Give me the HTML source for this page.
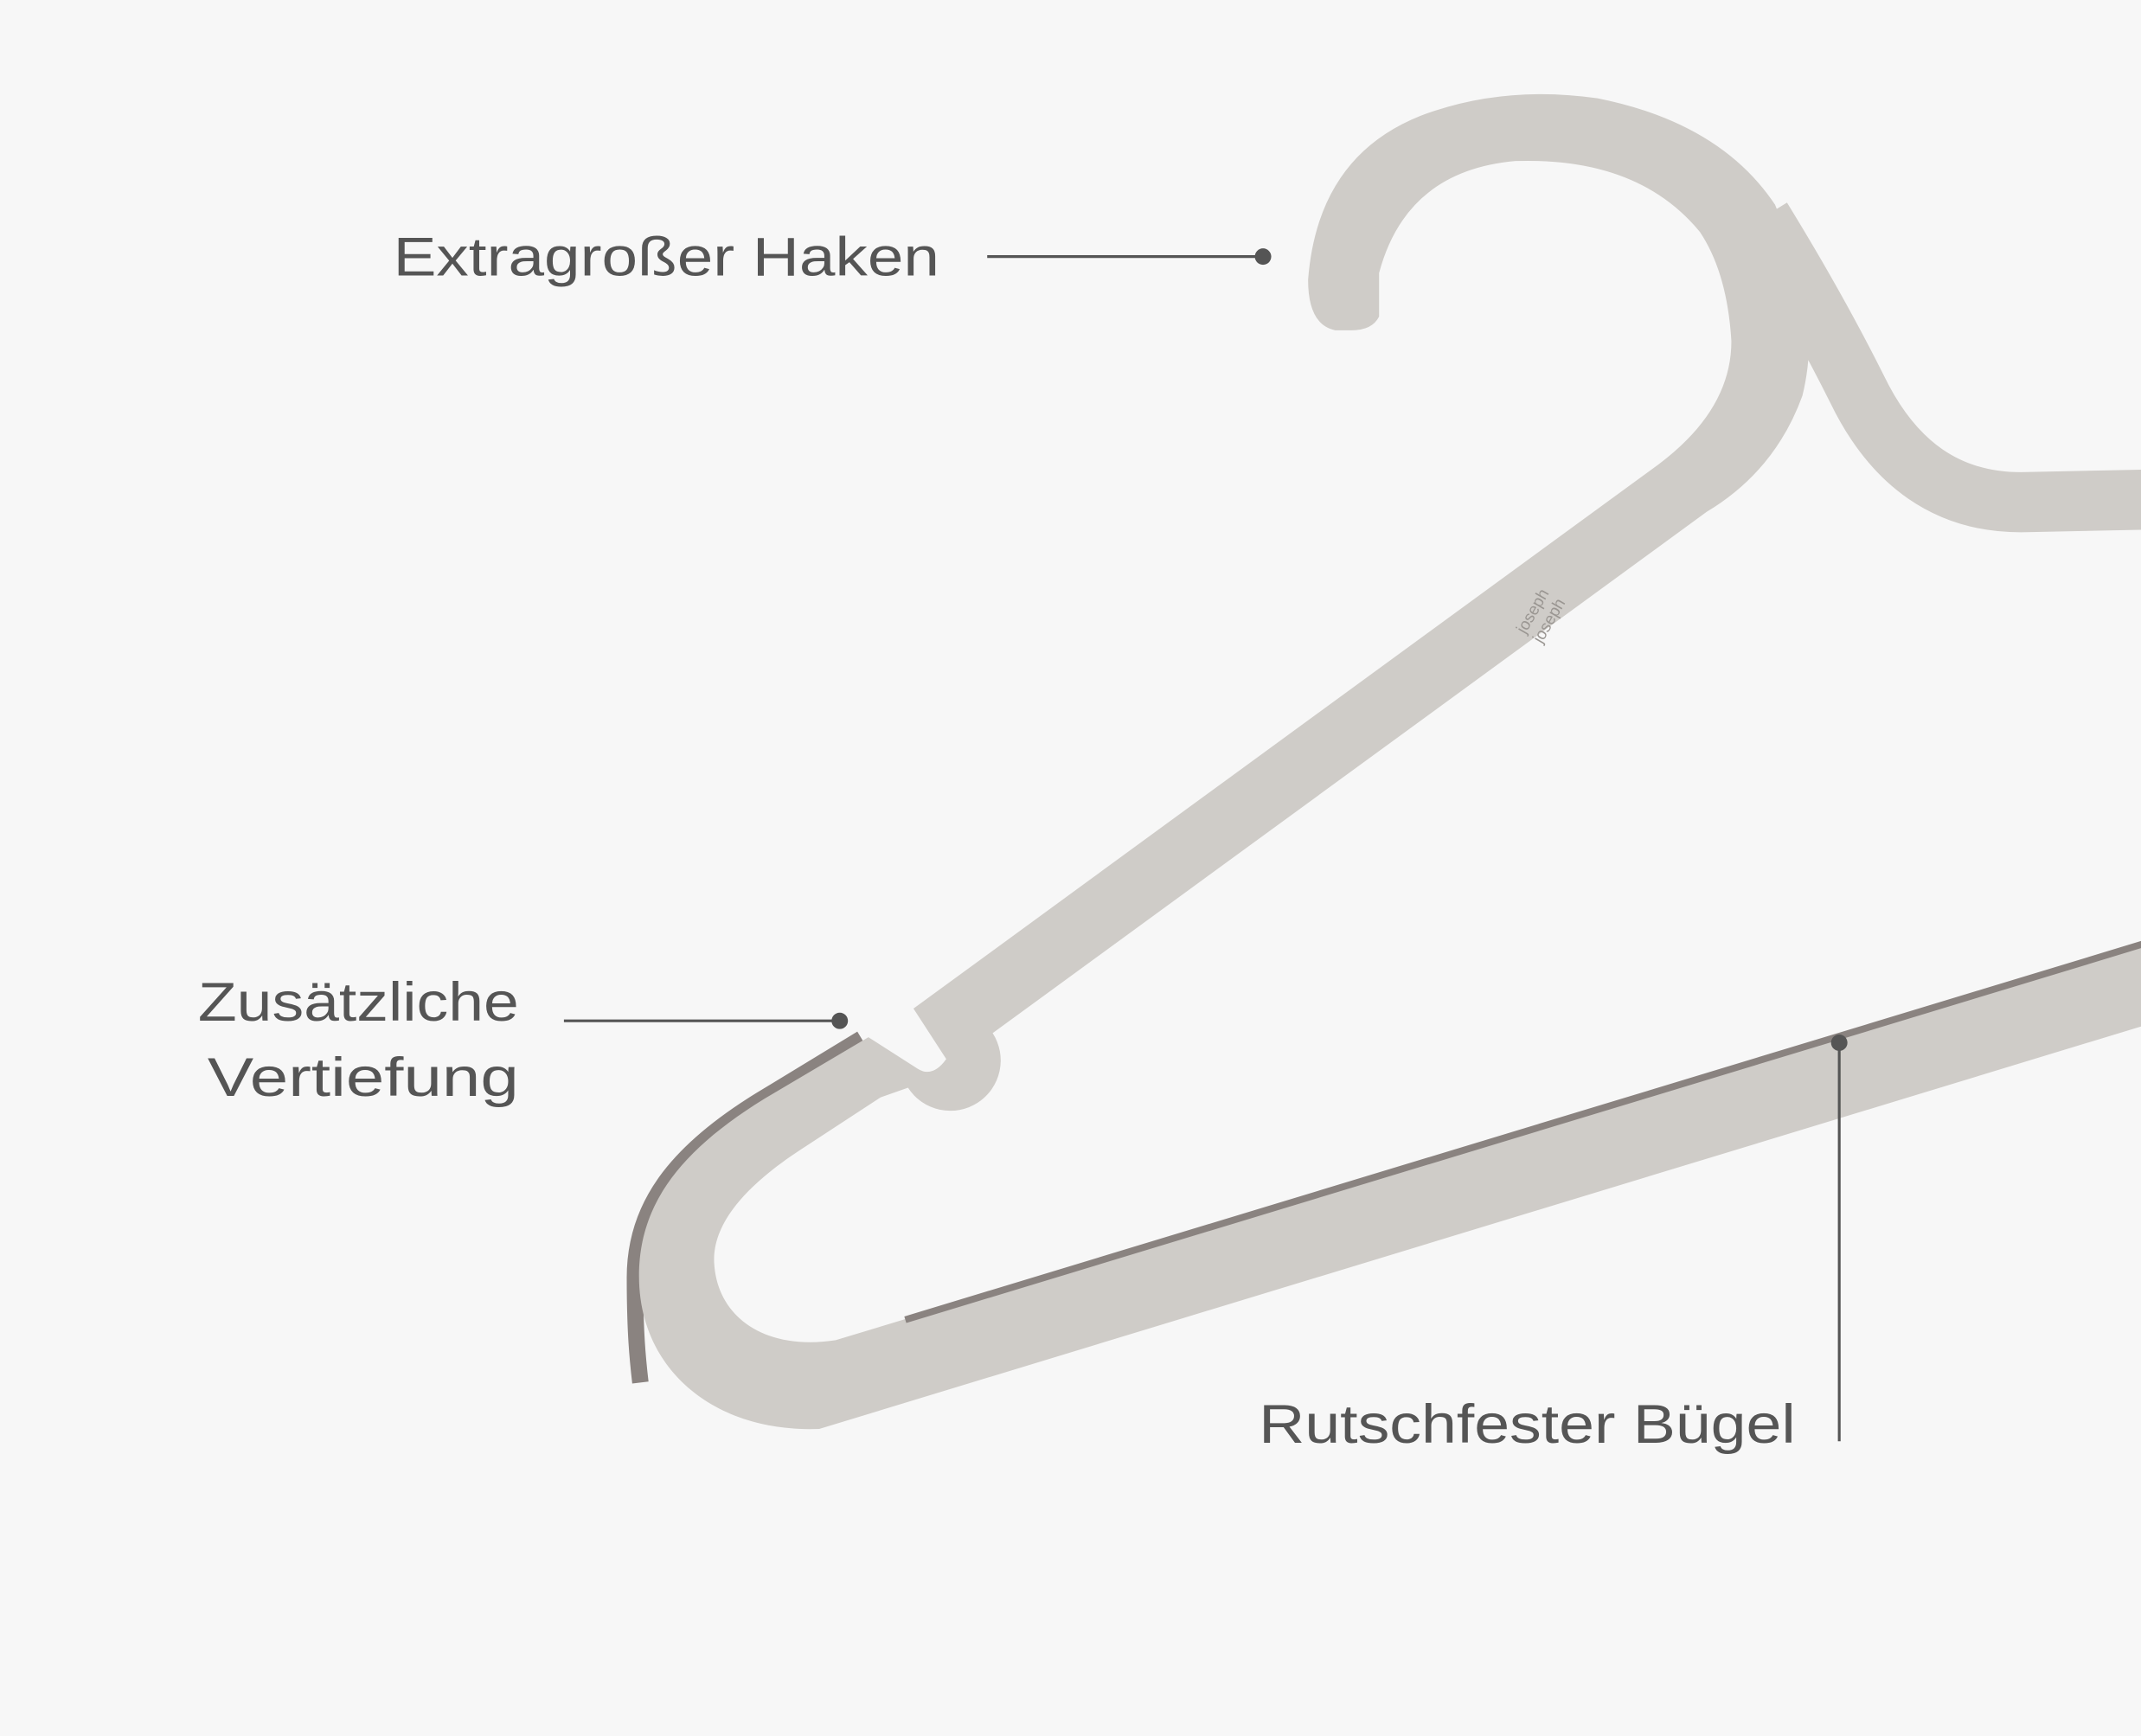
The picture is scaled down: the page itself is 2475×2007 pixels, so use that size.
<!DOCTYPE html>
<html><head><meta charset="utf-8"><style>
html,body{margin:0;padding:0;background:#f7f7f7;}
svg{display:block;}
text{font-family:"Liberation Sans","DejaVu Sans",sans-serif;fill:#555;}
</style></head><body>
<svg width="2475" height="2007" viewBox="0 0 1568 1272" preserveAspectRatio="none" xmlns="http://www.w3.org/2000/svg">
<rect width="1568" height="1272" fill="#f7f7f7"/>
<!-- right shoulder -->
<path d="M 1290 160 Q 1330 225 1360 285 Q 1400 368 1480 368 L 1575 366" fill="none" stroke="#cfccc8" stroke-width="44"/>
<!-- dark rim U -->
<path d="M 634 760 L 560 805 C 495 845 468 885 468 935 C 468 975 470 995 472 1012" fill="none" stroke="#8a8380" stroke-width="12" transform="translate(-3,1)"/>
<!-- main body -->
<path d="M 636 760 L 672 783 Q 683 790 693 776 L 669 739 L 1215 340 Q 1268 300 1268 250 Q 1265 200 1245 170 Q 1200 115 1110 118 Q 1030 125 1010 200 L 1010 232 Q 1005 242 990 242 L 978 242 Q 958 238 958 205 Q 965 115 1040 85 Q 1100 62 1170 72 Q 1260 90 1300 150 L 1320 200 Q 1330 250 1320 290 Q 1300 345 1250 375 L 727 757 A 28 28 0 0 1 665 797 L 645 804 L 590 840 C 540 872 522 900 523 925 C 525 965 560 990 612 982 L 1575 690 L 1575 750 L 600 1047 C 525 1050 468 1005 468 935 C 468 885 495 845 560 805 Z" fill="#cfccc8"/>
<!-- dark rim bar -->
<line x1="663" y1="967" x2="1575" y2="690" stroke="#8a8380" stroke-width="5"/>
<!-- logo -->
<text x="0" y="0" font-size="12" transform="translate(1117,465) rotate(-60)" style="fill:#9a9692">joseph</text>
<text x="0" y="0" font-size="12" transform="translate(1129,472) rotate(-60)" style="fill:#9a9692">joseph</text>
<!-- labels -->
<text x="288" y="202" font-size="40" textLength="400" lengthAdjust="spacingAndGlyphs">Extragroßer Haken</text>
<line x1="723" y1="188" x2="925" y2="188" stroke="#555" stroke-width="2"/>
<circle cx="925" cy="188" r="6" fill="#555"/>
<text x="145" y="748" font-size="40" textLength="235" lengthAdjust="spacingAndGlyphs">Zusätzliche</text>
<text x="152" y="803" font-size="40" textLength="228" lengthAdjust="spacingAndGlyphs">Vertiefung</text>
<line x1="413" y1="748" x2="615" y2="748" stroke="#555" stroke-width="2"/>
<circle cx="615" cy="748" r="6" fill="#555"/>
<text x="922" y="1057" font-size="40" textLength="393" lengthAdjust="spacingAndGlyphs">Rutschfester Bügel</text>
<line x1="1347" y1="764" x2="1347" y2="1056" stroke="#555" stroke-width="2"/>
<circle cx="1347" cy="764" r="6" fill="#555"/>
</svg>
</body></html>
